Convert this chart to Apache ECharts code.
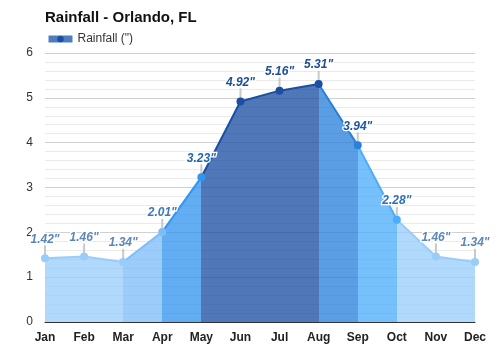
<!DOCTYPE html>
<html>
<head>
<meta charset="utf-8">
<script src="https://cdn.jsdelivr.net/npm/echarts@6/dist/echarts.min.js"></script>
<style>html,body{margin:0;padding:0;background:#fff}#c{width:500px;height:350px}</style>
</head>
<body>
<div id="c"></div>
<script>
const months = ['Jan','Feb','Mar','Apr','May','Jun','Jul','Aug','Sep','Oct','Nov','Dec'];
const rainfall = [1.42,1.46,1.34,2.01,3.23,4.92,5.16,5.31,3.94,2.28,1.46,1.34];
const yTicks = [0,1,2,3,4,5,6];

const labelColors = ['#5b87b9','#5b87b9','#5b87b9','#3a78c0','#2467b5','#1c4e9c','#1c4e9c','#1c4e9c','#1d57a8','#2d6fbf','#5b87b9','#5b87b9'];
const FONT = 'Arial, "Liberation Sans", sans-serif';

const chart = echarts.init(document.getElementById('c'));
chart.setOption({
  animation: false,
  title: {
    text: 'Rainfall - Orlando, FL',
    left: 40, top: 5,
    textStyle: {fontSize: 15, fontWeight: 'bold', color: '#111', fontFamily: FONT}
  },
  legend: {
    data: [{name: 'Rainfall (")'}],
    left: 40, top: 28,
    itemWidth: 24, itemHeight: 8,
    itemStyle: {color: '#1b4fa3'},
    lineStyle: {color: '#4f7cc0', width: 7},
    textStyle: {fontSize: 12, color: '#333', fontFamily: FONT}
  },
  grid: {left: 45, right: 25, top: 53, bottom: 28},
  xAxis: {
    type: 'category',
    data: months,
    boundaryGap: false,
    axisLine: {lineStyle: {color: '#333', width: 1}},
    axisTick: {show: false},
    axisLabel: {fontSize: 12, fontWeight: 'bold', color: '#222', margin: 10, fontFamily: FONT},
    splitLine: {show: false}
  },
  yAxis: {
    type: 'value',
    min: yTicks[0], max: yTicks[yTicks.length - 1], interval: 1,
    axisLine: {show: false},
    axisTick: {show: false},
    axisLabel: {fontSize: 12, color: '#333', margin: 12, fontFamily: FONT},
    splitLine: {lineStyle: {color: '#d0d0d0'}},
    minorTick: {show: false, splitNumber: 5},
    minorSplitLine: {show: true, lineStyle: {color: '#eaeaea'}}
  },
  visualMap: {
    show: false,
    type: 'piecewise',
    dimension: 0,
    seriesIndex: 0,
    pieces: [
      {gte: 0, lte: 2, color: '#98cdfa'},
      {gt: 2, lte: 3, color: '#7dbdf8'},
      {gt: 3, lte: 4, color: '#3395ee'},
      {gt: 4, lte: 7, color: '#1b4fa3'},
      {gt: 7, lte: 8, color: '#2980d9'},
      {gt: 8, lte: 9, color: '#4cacfa'},
      {gt: 9, lte: 11, color: '#98cdfa'}
    ]
  },
  series: [
    {
      name: 'Rainfall (")',
      type: 'line',
      z: 3,
      data: rainfall.map((v, i) => ({value: v, label: {color: labelColors[i]}})),
      symbol: 'circle',
      symbolSize: 8,
      lineStyle: {width: 2},
      areaStyle: {opacity: 0.77},
      label: {
        show: true,
        position: 'top',
        distance: 9,
        formatter: p => p.value.toFixed(2) + '"',
        fontSize: 12,
        fontWeight: 'bold',
        fontStyle: 'italic',
        fontFamily: FONT,
        textBorderColor: '#fff',
        textBorderWidth: 2.5
      }
    },
    {
      name: 'ticks',
      type: 'scatter',
      z: 1,
      silent: true,
      data: rainfall,
      symbol: 'rect',
      symbolSize: [2, 13],
      symbolOffset: [0, -6.5],
      itemStyle: {color: '#bbbbbb'}
    }
  ]
});
</script>
</body>
</html>
